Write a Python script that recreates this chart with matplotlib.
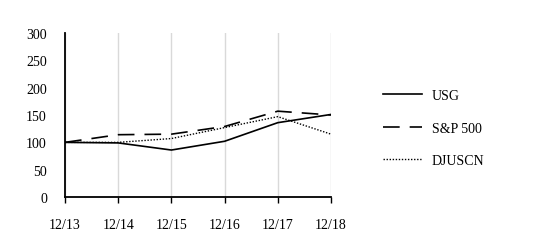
import matplotlib
matplotlib.use("Agg")
import matplotlib.pyplot as plt

plt.rcParams['font.family'] = ['Liberation Serif', 'DejaVu Serif']
plt.rcParams['font.size'] = 10

periods = ['12/13', '12/14', '12/15', '12/16', '12/17', '12/18']
usg = [100, 99, 86, 102, 136, 151]
sp500 = [100, 114, 115, 129, 157, 150]
djuscn = [100, 100, 107, 127, 147, 115]

fig = plt.figure(figsize=(5.33, 2.53), dpi=100)
ax = fig.add_axes([0.122, 0.217, 0.499, 0.649])

x = list(range(len(periods)))
ax.plot(x, usg, color='black', lw=1.2, label='USG')
ax.plot(x, sp500, color='black', lw=1.2, dashes=(10, 6), label='S&P 500')
ax.plot(x, djuscn, color='black', lw=1.0, ls=(0, (1, 1.2)), label='DJUSCN')

ax.set_xlim(0, 5)
ax.set_ylim(0, 300)
ax.set_xticks(x)
ax.set_xticklabels(periods)
ax.set_yticks([0, 50, 100, 150, 200, 250, 300])
ax.grid(True, axis='x', color='#d9d9d9', lw=1)
ax.set_axisbelow(True)

for s in ['top', 'right']:
    ax.spines[s].set_visible(False)
ax.spines['left'].set_linewidth(1.3)
ax.spines['bottom'].set_linewidth(1.3)
ax.tick_params(axis='x', length=4, width=1, pad=11, direction='out')
ax.tick_params(axis='y', length=0, pad=13)

leg = ax.legend(loc='center left', bbox_to_anchor=(1.15, 0.42), frameon=False,
                handlelength=2.75, handletextpad=0.75, labelspacing=1.4)

fig.savefig('out.png', dpi=100)
